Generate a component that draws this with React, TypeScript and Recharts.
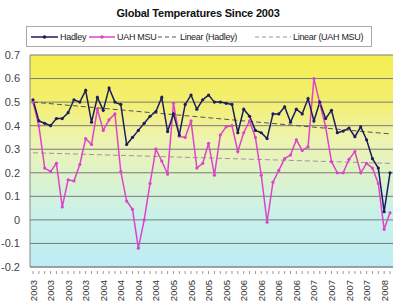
import React from "react";
import {
  LineChart,
  Line,
  XAxis,
  YAxis,
  CartesianGrid,
} from "recharts";

// monthly points, Jan 2003 .. Feb 2008
const months = [
  "2003-01", "2003-02", "2003-03", "2003-04", "2003-05", "2003-06", "2003-07", "2003-08", "2003-09", "2003-10", "2003-11", "2003-12",
  "2004-01", "2004-02", "2004-03", "2004-04", "2004-05", "2004-06", "2004-07", "2004-08", "2004-09", "2004-10", "2004-11", "2004-12",
  "2005-01", "2005-02", "2005-03", "2005-04", "2005-05", "2005-06", "2005-07", "2005-08", "2005-09", "2005-10", "2005-11", "2005-12",
  "2006-01", "2006-02", "2006-03", "2006-04", "2006-05", "2006-06", "2006-07", "2006-08", "2006-09", "2006-10", "2006-11", "2006-12",
  "2007-01", "2007-02", "2007-03", "2007-04", "2007-05", "2007-06", "2007-07", "2007-08", "2007-09", "2007-10", "2007-11", "2007-12",
  "2008-01", "2008-02",
];

const hadley = [
  0.51, 0.42, 0.41, 0.40, 0.43, 0.43, 0.455, 0.51, 0.50, 0.55,
  0.415, 0.52, 0.465, 0.56, 0.50, 0.49, 0.32, 0.35, 0.38, 0.41,
  0.44, 0.46, 0.52, 0.375, 0.45, 0.36, 0.49, 0.53, 0.47, 0.51,
  0.53, 0.50, 0.50, 0.495, 0.49, 0.37, 0.47, 0.44, 0.38, 0.37,
  0.345, 0.45, 0.45, 0.48, 0.415, 0.47, 0.45, 0.515, 0.42, 0.50,
  0.43, 0.465, 0.37, 0.377, 0.39, 0.353, 0.395, 0.34, 0.26, 0.22,
  0.035, 0.20,
];

const uahMsu = [
  0.50, 0.40, 0.22, 0.205, 0.24, 0.055, 0.17, 0.165, 0.235, 0.345,
  0.32, 0.47, 0.38, 0.425, 0.45, 0.205, 0.08, 0.045, -0.12, 0.0,
  0.155, 0.30, 0.25, 0.195, 0.495, 0.355, 0.35, 0.42, 0.22, 0.24,
  0.325, 0.19, 0.36, 0.395, 0.40, 0.29, 0.37, 0.42, 0.35, 0.19,
  -0.01, 0.16, 0.21, 0.26, 0.275, 0.34, 0.295, 0.31, 0.60, 0.495,
  0.395, 0.247, 0.20, 0.20, 0.257, 0.29, 0.20, 0.24, 0.22, 0.155,
  -0.04, 0.03,
];

// trend line end values (first and last month)
const hadleyTrend = [0.5, 0.365];
const uahTrend = [0.285, 0.24];

const yTicks = [-0.2, -0.1, 0, 0.1, 0.2, 0.3, 0.4, 0.5, 0.6, 0.7];

const last = months.length - 1;
const data = months.map((m, i) => ({
  month: m,
  hadley: hadley[i],
  uah: uahMsu[i],
  hadleyTrend: i === 0 ? hadleyTrend[0] : i === last ? hadleyTrend[1] : null,
  uahTrend: i === 0 ? uahTrend[0] : i === last ? uahTrend[1] : null,
}));

const FONT = '"Liberation Sans", Arial, sans-serif';

const MonthTick = (props: any) => {
  const { x, y, payload } = props;
  const idx = props.index ?? payload.index;
  return (
    <g>
      <line x1={x} x2={x} y1={y - 4} y2={y - 1} stroke="#999" />
      {idx % 3 === 0 && (
        <text
          x={0}
          y={0}
          transform={`translate(${x + 3.5},${y + 5}) rotate(-90)`}
          textAnchor="end"
          fontSize={9.5}
          fill="#333"
          fontFamily={FONT}
        >
          {String(payload.value).slice(0, 4)}
        </text>
      )}
    </g>
  );
};

const LegendItem = ({ color, dash, dots, label, left, width }: any) => (
  <div style={{ position: "absolute", left, top: 0, height: 19, display: "flex", alignItems: "center" }}>
    <svg width={width} height={8}>
      <line x1={0} x2={width} y1={4} y2={4} stroke={color} strokeWidth={dash ? 1 : 1.5} strokeDasharray={dash} />
      {dots && <circle cx={width / 2} cy={4} r={1.8} fill={color} />}
    </svg>
    <span style={{ marginLeft: 2 }}>{label}</span>
  </div>
);

const App = () => {
  return (
    <div style={{ position: "fixed", left: 0, top: 0, width: 400, height: 303, background: "#fff", fontFamily: FONT }}>
      <div style={{ position: "absolute", top: 7, left: 0, width: 396, textAlign: "center", fontSize: 11, fontWeight: "bold", color: "#111", letterSpacing: -0.2 }}>
        Global Temperatures Since 2003
      </div>
      <div
        style={{
          position: "absolute", left: 26, top: 26, width: 346, height: 21, boxSizing: "border-box",
          border: "1px solid #aaa", fontSize: 9, letterSpacing: -0.3, color: "#222", whiteSpace: "nowrap",
        }}
      >
        <LegendItem color="#1c1c5e" dots label="Hadley" left={4} width={27} />
        <LegendItem color="#dd44cc" dots label="UAH MSU" left={62} width={26} />
        <LegendItem color="#555" dash="4 3" label="Linear (Hadley)" left={131} width={20} />
        <LegendItem color="#a8909a" dash="4 3" label="Linear (UAH MSU)" left={228} width={36} />
      </div>
      <LineChart
        width={400}
        height={303}
        data={data}
        margin={{ top: 55, right: 7, bottom: 0, left: 0 }}
        style={{ position: "absolute", left: 0, top: 0 }}
      >
        <defs>
          <linearGradient id="bg" x1="0" y1="0" x2="0" y2="1">
            <stop offset="0%" stopColor="#f4ee50" />
            <stop offset="22%" stopColor="#f3ef70" />
            <stop offset="40%" stopColor="#eef3b0" />
            <stop offset="58%" stopColor="#dcf3cc" />
            <stop offset="75%" stopColor="#c9f1ea" />
            <stop offset="100%" stopColor="#bdedf4" />
          </linearGradient>
        </defs>
        <CartesianGrid vertical={false} stroke="#7a7a7a" fill="url(#bg)" fillOpacity={1} />
        <XAxis
          dataKey="month"
          interval={0}
          height={36}
          padding={{ left: 3, right: 3 }}
          tick={<MonthTick />}
          tickLine={false}
          axisLine={{ stroke: "#888" }}
        />
        <YAxis
          domain={[-0.2, 0.7]}
          ticks={yTicks}
          width={30}
          tickLine={false}
          axisLine={{ stroke: "#888" }}
          tick={{ fontSize: 11, fill: "#444", fontFamily: FONT }}
          tickFormatter={(v: number) => String(Math.round(v * 10) / 10)}
          tickMargin={4}
        />
        <YAxis yAxisId="r" orientation="right" width={0} tick={false} tickLine={false} axisLine={{ stroke: "#999" }} />
        <Line dataKey="hadleyTrend" stroke="#555" strokeWidth={1} strokeDasharray="5 3" dot={false} connectNulls isAnimationActive={false} />
        <Line dataKey="uahTrend" stroke="#a8909a" strokeWidth={1} strokeDasharray="5 3" dot={false} connectNulls isAnimationActive={false} />
        <Line
          dataKey="uah"
          stroke="#dd44cc"
          strokeWidth={1.5}
          dot={{ r: 1.6, fill: "#dd44cc", stroke: "none" }}
          isAnimationActive={false}
        />
        <Line
          dataKey="hadley"
          stroke="#1c1c5e"
          strokeWidth={1.5}
          dot={{ r: 1.6, fill: "#1c1c5e", stroke: "none" }}
          isAnimationActive={false}
        />
      </LineChart>
    </div>
  );
};

export default App;
